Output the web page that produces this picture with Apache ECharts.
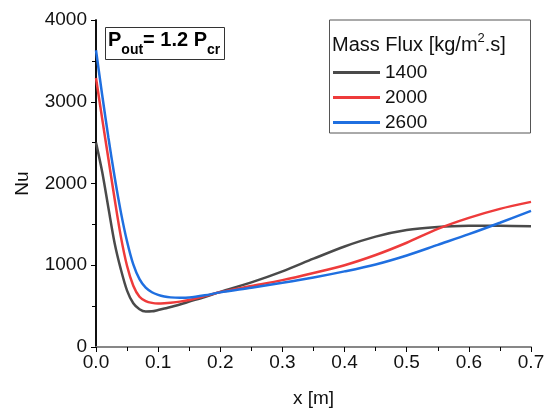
<!DOCTYPE html>
<html>
<head>
<meta charset="utf-8">
<script src="https://cdn.jsdelivr.net/npm/echarts@6/dist/echarts.min.js"></script>
<style>
    html, body { margin: 0; padding: 0; background: #fff; }
    #chart { width: 556px; height: 413px; }
</style>
</head>
<body>
<div id="chart"></div>
<script>
    // x 位置 [m]
    var xs = [0, 0.01, 0.02, 0.03, 0.04, 0.05, 0.06, 0.07, 0.08, 0.09, 0.1, 0.11, 0.12, 0.135, 0.15, 0.175,
        0.2, 0.25, 0.3, 0.35, 0.4, 0.45, 0.5, 0.55, 0.6, 0.65, 0.7];
    var nu1400 = [2500, 2140, 1700, 1270, 950, 690, 535, 462, 434, 436, 452, 470, 490, 520, 555, 612,
        675, 790, 925, 1080, 1230, 1350, 1430, 1467, 1482, 1484, 1476];
    var nu2000 = [3290, 2790, 2300, 1810, 1350, 990, 750, 615, 562, 540, 533, 536, 542, 555, 575, 622,
        672, 745, 818, 905, 1000, 1125, 1275, 1445, 1580, 1690, 1775];
    var nu2600 = [3630, 3080, 2560, 2080, 1650, 1290, 1010, 830, 725, 670, 638, 618, 607, 602, 605, 632,
        668, 725, 785, 850, 925, 1010, 1120, 1250, 1380, 1520, 1665];
    var seriesNames = ['1400', '2000', '2600'];
    var colors = ['#4a4a4a', '#ee3b3b', '#1f6fe0'];

    function pairs(ys) {
        return xs.map(function (x, i) { return [x, ys[i]]; });
    }

    var font = '"Liberation Sans", Arial, sans-serif';
    var myChart = echarts.init(document.getElementById('chart'));

    var option = {
        animation: false,
        textStyle: { fontFamily: font },
        grid: { left: 96, right: 25, top: 20, bottom: 64 },
        legend: {
            data: seriesNames,
            orient: 'vertical',
            left: 333,
            top: 62,
            padding: 0,
            z: 10,
            icon: 'rect',
            itemWidth: 47,
            itemHeight: 3,
            itemGap: 4,
            textStyle: { fontSize: 19, color: '#111', lineHeight: 21, fontFamily: font }
        },
        xAxis: [{
            type: 'value',
            min: 0,
            max: 0.7,
            interval: 0.1,
            name: 'x [m]',
            nameLocation: 'middle',
            nameGap: 42,
            nameTextStyle: { fontSize: 19, color: '#111' },
            axisLine: { lineStyle: { color: '#808080', width: 1.5 } },
            axisTick: { inside: false, length: 5, lineStyle: { color: '#000' } },
            minorTick: { show: true, splitNumber: 2, length: 4, lineStyle: { color: '#000' } },
            axisLabel: { fontSize: 19, color: '#111', margin: 6,
                formatter: function (v) { return v.toFixed(1); } },
            splitLine: { show: false }
        }, {
            type: 'value',
            position: 'top',
            min: 0,
            max: 0.7,
            axisLine: { lineStyle: { color: '#808080', width: 1.5 } },
            axisTick: { show: false },
            axisLabel: { show: false },
            splitLine: { show: false }
        }],
        yAxis: [{
            type: 'value',
            min: 0,
            max: 4000,
            interval: 1000,
            name: 'Nu',
            nameLocation: 'middle',
            nameGap: 64,
            nameTextStyle: { fontSize: 19, color: '#111' },
            axisLine: { show: true, lineStyle: { color: '#000', width: 1.5 } },
            axisTick: { inside: false, length: 5, lineStyle: { color: '#000' } },
            minorTick: { show: true, splitNumber: 2, length: 4, lineStyle: { color: '#000' } },
            axisLabel: { fontSize: 19, color: '#111', margin: 9,
                formatter: function (v) { return String(v); } },
            splitLine: { show: false }
        }, {
            type: 'value',
            position: 'right',
            min: 0,
            max: 4000,
            axisLine: { show: true, lineStyle: { color: '#000', width: 1.5 } },
            axisTick: { show: false },
            axisLabel: { show: false },
            splitLine: { show: false }
        }],
        graphic: [
            // 图例外框
            {
                type: 'rect',
                shape: { x: 329.5, y: 20, width: 201, height: 113 },
                style: { fill: 'rgba(255,255,255,0)', stroke: '#555', lineWidth: 1 },
                z: 1
            },
            {
                type: 'text',
                left: 332,
                top: 32,
                z: 6,
                style: {
                    text: '{n|Mass Flux [kg/m}{p|2}{n|.s]}',
                    rich: {
                        n: { fontSize: 20, fontFamily: font, fill: '#111', verticalAlign: 'bottom', lineHeight: 23 },
                        p: { fontSize: 13, fontFamily: font, fill: '#111', verticalAlign: 'top', lineHeight: 23 }
                    }
                }
            },
            // 压力标注
            {
                type: 'rect',
                shape: { x: 105.5, y: 27.5, width: 119, height: 32 },
                style: { fill: '#fff', stroke: '#333', lineWidth: 1 },
                z: 5
            },
            {
                type: 'text',
                left: 108,
                top: 30,
                z: 6,
                style: {
                    text: '{b|P}{s|out}{b|= 1.2 P}{s|cr}',
                    rich: {
                        b: { fontSize: 20, fontWeight: 'bold', fontFamily: font, fill: '#000', verticalAlign: 'top', lineHeight: 27 },
                        s: { fontSize: 14, fontWeight: 'bold', fontFamily: font, fill: '#000', verticalAlign: 'bottom', lineHeight: 27 }
                    }
                }
            }
        ],
        series: [0, 1, 2].map(function (k) {
            return {
                name: seriesNames[k],
                type: 'line',
                data: pairs([nu1400, nu2000, nu2600][k]),
                smooth: 0.3,
                symbol: 'none',
                lineStyle: { width: 2.5, color: colors[k] },
                itemStyle: { color: colors[k] },
                z: 2
            };
        })
    };
    myChart.setOption(option);
</script>
</body>
</html>
